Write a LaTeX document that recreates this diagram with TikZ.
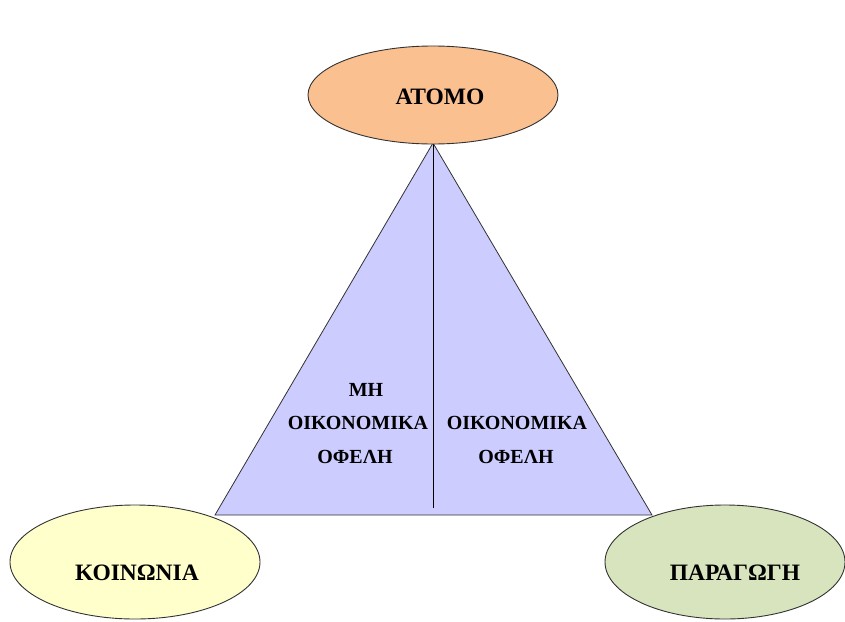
\documentclass[tikz,border=0pt]{standalone}
\usepackage{fontspec}
\setmainfont{Liberation Serif}
\usetikzlibrary{shapes.geometric}
\definecolor{orangefill}{RGB}{250,192,144}
\definecolor{trifill}{RGB}{204,204,255}
\definecolor{yellowfill}{RGB}{255,255,204}
\definecolor{greenfill}{RGB}{215,228,189}
\definecolor{edgegray}{RGB}{50,50,50}
\tikzset{
  blob/.style={ellipse, draw=edgegray, line width=0.9pt, inner sep=0pt},
  bigtext/.style={font=\fontsize{23.5}{26}\selectfont\bfseries, inner sep=0pt},
  smalltext/.style={font=\fontsize{20}{22}\selectfont\bfseries, inner sep=0pt, align=center},
}
\begin{document}
\begin{tikzpicture}[x=1pt,y=-1pt]
\useasboundingbox (0,0) rectangle (845,621);
% triangle
\coordinate (apex) at (433,143);
\coordinate (bl) at (215,515);
\coordinate (br) at (652,515);
\coordinate (mid) at (433,508);
\filldraw[fill=trifill, draw=edgegray, line width=0.8pt] (apex) -- (bl) -- (br) -- cycle;
\draw[black, line width=1pt] (apex) -- (mid);
% ellipses
\node[blob, fill=orangefill, minimum width=250pt, minimum height=98pt] (atomo) at (433,95) {};
\node[blob, fill=yellowfill, minimum width=250pt, minimum height=114pt] (koin) at (135,562) {};
\node[blob, fill=greenfill, minimum width=240pt, minimum height=114pt] (parag) at (725,562) {};
% texts
\node[bigtext] (tatomo) at (440,97) {ΑΤΟΜΟ};
\node[bigtext] (tkoin) at (137,573) {ΚΟΙΝΩΝΙΑ};
\node[bigtext] (tparag) at (735,573) {ΠΑΡΑΓΩΓΗ};
\node[smalltext] (l1) at (366,390) {ΜΗ};
\node[smalltext] (l2) at (358,423) {ΟΙΚΟΝΟΜΙΚΑ};
\node[smalltext] (l3) at (355,457) {ΟΦΕΛΗ};
\node[smalltext] (r2) at (517,423) {ΟΙΚΟΝΟΜΙΚΑ};
\node[smalltext] (r3) at (516,457) {ΟΦΕΛΗ};
\end{tikzpicture}
\end{document}
